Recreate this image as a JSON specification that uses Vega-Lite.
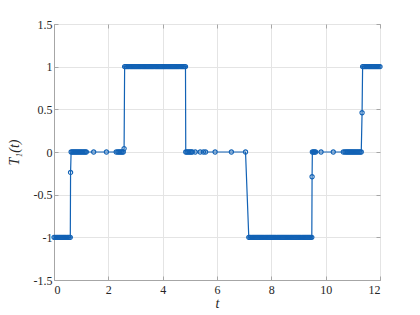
{
  "$schema": "https://vega.github.io/schema/vega-lite/v6.json",
  "width": 326,
  "height": 256,
  "autosize": {"type": "none"},
  "padding": {"left": 54, "top": 24, "right": 40, "bottom": 35},
  "background": "white",
  "config": {
    "font": "Times New Roman",
    "view": {"stroke": "#a6a6a6", "strokeWidth": 1},
    "axis": {
      "labelFont": "Times New Roman",
      "labelFontSize": 12,
      "labelColor": "#262626",
      "titleFont": "Times New Roman",
      "titleFontSize": 14,
      "titleFontWeight": "normal",
      "titleFontStyle": "italic",
      "titleColor": "#262626",
      "domainColor": "#a6a6a6",
      "tickColor": "#a6a6a6",
      "gridColor": "#e4e4e4",
      "tickSize": -4
    }
  },
  "data": {"values": [
    {"t":0,"v":-1},{"t":0.04,"v":-1},{"t":0.08,"v":-1},{"t":0.12,"v":-1},{"t":0.16,"v":-1},{"t":0.2,"v":-1},{"t":0.24,"v":-1},{"t":0.28,"v":-1},{"t":0.32,"v":-1},{"t":0.36,"v":-1},{"t":0.4,"v":-1},{"t":0.44,"v":-1},{"t":0.48,"v":-1},{"t":0.52,"v":-1},{"t":0.56,"v":-1},{"t":0.6,"v":-1},
    {"t":0.61,"v":-0.24},
    {"t":0.63,"v":0},{"t":0.67,"v":0},{"t":0.71,"v":0},{"t":0.75,"v":0},{"t":0.79,"v":0},{"t":0.83,"v":0},{"t":0.87,"v":0},{"t":0.91,"v":0},{"t":0.95,"v":0},{"t":0.99,"v":0},{"t":1.03,"v":0},{"t":1.07,"v":0},{"t":1.11,"v":0},{"t":1.15,"v":0},{"t":1.19,"v":0},
    {"t":1.46,"v":0},{"t":1.93,"v":0},{"t":2.29,"v":0},{"t":2.35,"v":0},{"t":2.39,"v":0},{"t":2.43,"v":0},{"t":2.47,"v":0},{"t":2.51,"v":0},{"t":2.55,"v":0},
    {"t":2.58,"v":0.04},
    {"t":2.6,"v":1},{"t":2.64,"v":1},{"t":2.68,"v":1},{"t":2.72,"v":1},{"t":2.76,"v":1},{"t":2.8,"v":1},{"t":2.84,"v":1},{"t":2.88,"v":1},{"t":2.92,"v":1},{"t":2.96,"v":1},{"t":3,"v":1},{"t":3.04,"v":1},{"t":3.08,"v":1},{"t":3.12,"v":1},{"t":3.16,"v":1},{"t":3.2,"v":1},{"t":3.24,"v":1},{"t":3.28,"v":1},{"t":3.32,"v":1},{"t":3.36,"v":1},{"t":3.4,"v":1},{"t":3.44,"v":1},{"t":3.48,"v":1},{"t":3.52,"v":1},{"t":3.56,"v":1},{"t":3.6,"v":1},{"t":3.64,"v":1},{"t":3.68,"v":1},{"t":3.72,"v":1},{"t":3.76,"v":1},{"t":3.8,"v":1},{"t":3.84,"v":1},{"t":3.88,"v":1},{"t":3.92,"v":1},{"t":3.96,"v":1},{"t":4,"v":1},{"t":4.04,"v":1},{"t":4.08,"v":1},{"t":4.12,"v":1},{"t":4.16,"v":1},{"t":4.2,"v":1},{"t":4.24,"v":1},{"t":4.28,"v":1},{"t":4.32,"v":1},{"t":4.36,"v":1},{"t":4.4,"v":1},{"t":4.44,"v":1},{"t":4.48,"v":1},{"t":4.52,"v":1},{"t":4.56,"v":1},{"t":4.6,"v":1},{"t":4.64,"v":1},{"t":4.68,"v":1},{"t":4.72,"v":1},{"t":4.76,"v":1},{"t":4.8,"v":1},{"t":4.84,"v":1},
    {"t":4.85,"v":0},{"t":4.89,"v":0},{"t":4.93,"v":0},{"t":4.97,"v":0},{"t":5.01,"v":0},{"t":5.05,"v":0},{"t":5.09,"v":0},{"t":5.2,"v":0},{"t":5.38,"v":0},{"t":5.5,"v":0},{"t":5.58,"v":0},{"t":5.93,"v":0},{"t":6.53,"v":0},{"t":7.05,"v":0},
    {"t":7.17,"v":-1},{"t":7.21,"v":-1},{"t":7.25,"v":-1},{"t":7.29,"v":-1},{"t":7.33,"v":-1},{"t":7.37,"v":-1},{"t":7.41,"v":-1},{"t":7.45,"v":-1},{"t":7.49,"v":-1},{"t":7.53,"v":-1},{"t":7.57,"v":-1},{"t":7.61,"v":-1},{"t":7.65,"v":-1},{"t":7.69,"v":-1},{"t":7.73,"v":-1},{"t":7.77,"v":-1},{"t":7.81,"v":-1},{"t":7.85,"v":-1},{"t":7.89,"v":-1},{"t":7.93,"v":-1},{"t":7.97,"v":-1},{"t":8.01,"v":-1},{"t":8.05,"v":-1},{"t":8.09,"v":-1},{"t":8.13,"v":-1},{"t":8.17,"v":-1},{"t":8.21,"v":-1},{"t":8.25,"v":-1},{"t":8.29,"v":-1},{"t":8.33,"v":-1},{"t":8.37,"v":-1},{"t":8.41,"v":-1},{"t":8.45,"v":-1},{"t":8.49,"v":-1},{"t":8.53,"v":-1},{"t":8.57,"v":-1},{"t":8.61,"v":-1},{"t":8.65,"v":-1},{"t":8.69,"v":-1},{"t":8.73,"v":-1},{"t":8.77,"v":-1},{"t":8.81,"v":-1},{"t":8.85,"v":-1},{"t":8.89,"v":-1},{"t":8.93,"v":-1},{"t":8.97,"v":-1},{"t":9.01,"v":-1},{"t":9.05,"v":-1},{"t":9.09,"v":-1},{"t":9.13,"v":-1},{"t":9.17,"v":-1},{"t":9.21,"v":-1},{"t":9.25,"v":-1},{"t":9.29,"v":-1},{"t":9.33,"v":-1},{"t":9.37,"v":-1},{"t":9.41,"v":-1},{"t":9.45,"v":-1},{"t":9.49,"v":-1},
    {"t":9.5,"v":-0.29},
    {"t":9.51,"v":0},{"t":9.55,"v":0},{"t":9.59,"v":0},{"t":9.63,"v":0},{"t":9.83,"v":0},{"t":10.28,"v":0},{"t":10.65,"v":0},{"t":10.71,"v":0},{"t":10.75,"v":0},{"t":10.79,"v":0},{"t":10.83,"v":0},{"t":10.87,"v":0},{"t":10.91,"v":0},{"t":10.95,"v":0},{"t":10.99,"v":0},{"t":11.03,"v":0},{"t":11.07,"v":0},{"t":11.11,"v":0},{"t":11.15,"v":0},{"t":11.19,"v":0},{"t":11.23,"v":0},{"t":11.27,"v":0},{"t":11.31,"v":0},
    {"t":11.34,"v":0.46},
    {"t":11.36,"v":1},{"t":11.4,"v":1},{"t":11.44,"v":1},{"t":11.48,"v":1},{"t":11.52,"v":1},{"t":11.56,"v":1},{"t":11.6,"v":1},{"t":11.64,"v":1},{"t":11.68,"v":1},{"t":11.72,"v":1},{"t":11.76,"v":1},{"t":11.8,"v":1},{"t":11.84,"v":1},{"t":11.88,"v":1},{"t":11.92,"v":1},{"t":11.96,"v":1},{"t":12,"v":1}
  ]},
  "resolve": {"axis": {"x": "independent", "y": "independent"}},
  "layer": [
    {
      "mark": {"type": "point", "opacity": 0},
      "encoding": {
        "x": {"field": "t", "type": "quantitative", "scale": {"domain": [0, 12], "nice": false, "zero": false},
              "axis": {"orient": "top", "labels": false, "title": null, "grid": false, "domain": false, "values": [0,2,4,6,8,10,12]}},
        "y": {"field": "v", "type": "quantitative", "scale": {"domain": [-1.5, 1.5], "nice": false, "zero": false},
              "axis": {"orient": "right", "labels": false, "title": null, "grid": false, "domain": false, "values": [-1.5,-1,-0.5,0,0.5,1,1.5]}}
      }
    },
    {
      "mark": {"type": "line", "color": "#1262b5", "strokeWidth": 1.2,
               "point": {"filled": false, "stroke": "#1262b5", "strokeWidth": 1.1, "size": 18}},
      "encoding": {
        "x": {"field": "t", "type": "quantitative", "scale": {"domain": [0, 12], "nice": false, "zero": false},
              "axis": {"orient": "bottom", "title": "t", "titlePadding": 1, "labelPadding": 8, "grid": true, "values": [0,2,4,6,8,10,12], "labelExpr": "'' + datum.value"}},
        "y": {"field": "v", "type": "quantitative", "scale": {"domain": [-1.5, 1.5], "nice": false, "zero": false},
              "axis": {"orient": "left", "title": "T₁(t)", "titlePadding": 12, "labelPadding": 6, "grid": true, "values": [-1.5,-1,-0.5,0,0.5,1,1.5], "labelExpr": "'' + datum.value"}}
      }
    }
  ]
}
